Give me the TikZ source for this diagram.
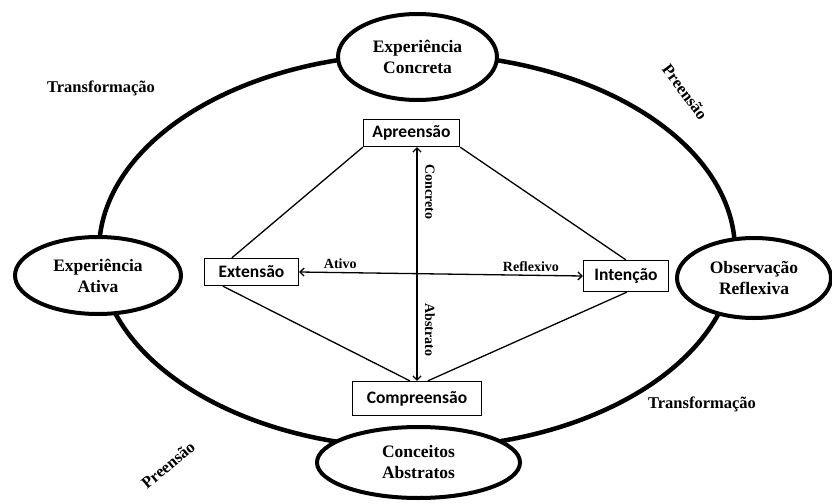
\documentclass[tikz,border=0pt]{standalone}
\usepackage{fontspec}
\setmainfont{Liberation Serif}
\newfontfamily\boxfont{Carlito}
\usetikzlibrary{arrows.meta,positioning,calc,shapes.geometric}

\begin{document}
\begin{tikzpicture}[x=1pt, y=-1pt, >={Straight Barb[length=4pt,width=8pt]},
  phase/.style={draw, ellipse, line width=4pt, fill=white, inner sep=0pt, align=center, font=\bfseries\fontsize{17.5}{21}\selectfont},
  mode/.style={draw, line width=1.3pt, fill=white, inner sep=0pt, font=\boxfont\bfseries\fontsize{17.5}{20}\selectfont},
  link/.style={line width=1.3pt},
  lbl/.style={inner sep=0pt, font=\bfseries\fontsize{14}{16}\selectfont},
  side/.style={inner sep=0pt, font=\bfseries\fontsize{16.5}{18}\selectfont}]
\useasboundingbox (0,0) rectangle (832,503);

% the big cycle
\draw[line width=4.5pt] (417,251) ellipse [x radius=318, y radius=197];

\node[phase, minimum width=159pt, minimum height=86pt] (ec) at (417.5,57) {Experiência\\Concreta};
\node[phase, minimum width=166pt, minimum height=77pt] (ea) at (98,275.5) {Experiência\\Ativa};
\node[phase, minimum width=154pt, minimum height=80pt] (or) at (754,278) {Observação\\Reflexiva};
\node[phase, minimum width=203pt, minimum height=71pt] (ca) at (418.5,462.5) {Conceitos\\Abstratos};

\node[mode, minimum width=96pt, minimum height=27pt] (apr) at (411.5,133) {Apreensão};
\node[mode, minimum width=94pt, minimum height=27pt] (ext) at (251.5,272) {Extensão};
\node[mode, minimum width=85pt, minimum height=31pt] (int) at (626,276) {Intenção};
\node[mode, minimum width=129pt, minimum height=34pt] (com) at (417,398.5) {Compreensão};

\draw[link] (apr.south west) -- ([xshift=28pt]ext.north west);
\draw[link] (apr.south east) -- ([xshift=43pt]int.north west);
\draw[link] ([xshift=19pt]ext.south west) -- ([xshift=58pt]com.north west);
\draw[link] ([xshift=44pt]int.south west) -- ([xshift=76pt]com.north west);

\draw[link, <->] (com.north) -- (com.north |- apr.south);
\draw[link, <->] (ext.east) -- node[lbl, pos=0.145, above=3pt] (ativo) {Ativo}
  node[lbl, pos=0.817, above=3pt] (refl) {Reflexivo} (int.west);

\node[lbl, rotate=-90] (conc) at (430,192) {Concreto};
\node[lbl, rotate=-90] (abst) at (430,330) {Abstrato};

\node[side] (tr1) at (101,88) {Transformação};
\node[side] (tr2) at (702,404) {Transformação};
\node[side, rotate=-53] (pr1) at (685,92) {Preensão};
\node[side, rotate=40] (pr2) at (168,465) {Preensão};
\end{tikzpicture}
\end{document}
